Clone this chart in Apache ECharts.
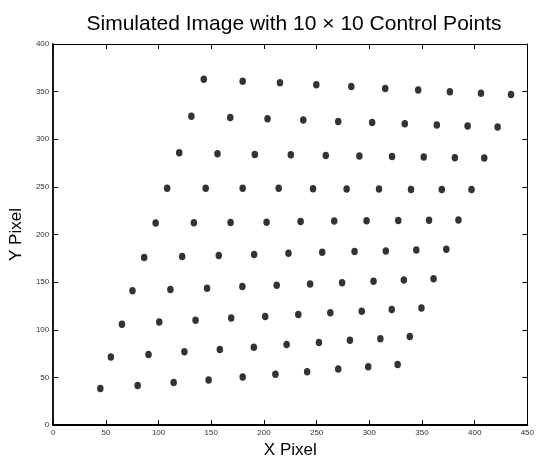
<!DOCTYPE html>
<html>
<head>
<meta charset="utf-8">
<style>
    html, body { margin: 0; padding: 0; background: #fff; }
    .controlChart {
        width: 537px;
        height: 464px;
    }
</style>
<script src="https://cdn.jsdelivr.net/npm/echarts@6/dist/echarts.min.js"></script>
</head>
<body>
<div class="controlChart"></div>
<script>
    // control point rows, bottom row first
    const rowX = [
      [44.7, 80.1, 114.3, 147.5, 179.8, 210.9, 241.0, 270.5, 299.0, 326.9],
      [54.7, 90.4, 124.5, 158.1, 190.4, 221.5, 252.2, 281.6, 310.5, 338.4],
      [65.2, 100.6, 135.1, 168.9, 201.2, 232.6, 263.0, 292.8, 321.3, 349.5],
      [75.2, 111.2, 146.0, 179.5, 212.1, 243.8, 274.2, 304.0, 332.8, 361.0],
      [86.3, 122.4, 157.1, 190.7, 223.3, 255.3, 286.0, 315.7, 344.6, 373.1],
      [97.2, 133.5, 168.3, 202.5, 234.8, 266.7, 297.4, 327.5, 356.7, 384.6],
      [108.1, 144.7, 179.8, 214.0, 246.6, 278.5, 309.2, 339.6, 368.8, 397.0],
      [119.6, 155.9, 191.3, 225.5, 258.7, 290.6, 321.6, 351.7, 381.2, 409.1],
      [131.1, 168.0, 203.4, 237.3, 270.5, 302.7, 333.7, 364.1, 393.3, 421.8],
      [142.9, 179.8, 215.2, 249.7, 282.9, 315.1, 346.4, 376.5, 406.0, 434.5]
    ]
    const rowY = [
      [38.5, 41.6, 44.7, 47.4, 50.5, 53.3, 56.0, 58.8, 61.2, 63.6],
      [71.5, 74.2, 77.0, 79.4, 81.8, 84.5, 86.6, 89.0, 90.7, 93.1],
      [105.8, 108.2, 110.0, 112.4, 114.1, 116.2, 117.9, 119.6, 121.3, 123.0],
      [140.9, 142.3, 143.6, 145.4, 146.7, 148.1, 149.5, 150.9, 152.2, 153.6],
      [175.9, 177.0, 178.0, 179.0, 180.4, 181.4, 182.1, 182.8, 183.8, 184.5],
      [212.0, 212.4, 212.7, 213.0, 213.7, 214.1, 214.4, 214.8, 215.1, 215.4],
      [248.7, 248.7, 248.7, 248.7, 248.0, 247.7, 247.7, 247.4, 247.4, 247.4],
      [285.8, 284.8, 284.1, 283.7, 283.0, 282.4, 282.0, 281.3, 280.6, 280.3],
      [324.2, 322.9, 321.5, 320.1, 318.7, 317.7, 316.3, 315.0, 313.9, 312.9],
      [363.0, 361.0, 359.2, 357.2, 355.5, 353.4, 351.7, 350.0, 348.3, 346.9]
    ]
    const xRange = [0, 450]
    const yRange = [0, 400]
    const tickStep = 50

    const points = []
    rowX.forEach((xs, r) => {
      xs.forEach((x, c) => {
        points.push([x, rowY[r][c]])
      })
    })

    const font = 'Liberation Sans'
    const tickLabel = { fontFamily: font, fontSize: 8, color: '#333' }

    // MATLAB style box: main axes bottom/left, plain copies on top/right
    function boxAxis (pos, range, main) {
      return {
        type: 'value',
        position: pos,
        min: range[0],
        max: range[1],
        interval: tickStep,
        splitLine: { show: false },
        axisLine: { show: true, onZero: false, lineStyle: { color: '#000', width: main ? 1.8 : 1 } },
        axisTick: { show: true, inside: true, length: 5, lineStyle: { color: '#000', width: 1 } },
        axisLabel: main ? Object.assign({ margin: 4 }, tickLabel) : { show: false }
      }
    }

    const xMain = boxAxis('bottom', xRange, true)
    xMain.name = 'X Pixel'
    xMain.nameLocation = 'middle'
    xMain.nameGap = 13
    xMain.nameTextStyle = { fontFamily: font, fontSize: 17, color: '#000' }

    const yMain = boxAxis('left', yRange, true)
    yMain.name = 'Y Pixel'
    yMain.nameLocation = 'middle'
    yMain.nameGap = 21
    yMain.nameTextStyle = { fontFamily: font, fontSize: 17, color: '#000' }

    const chart = echarts.init(document.getElementsByClassName('controlChart')[0], null, { renderer: 'canvas' })
    chart.setOption({
      animation: false,
      backgroundColor: '#fff',
      title: {
        text: 'Simulated Image with 10 \u00d7 10 Control Points',
        left: 289,
        textAlign: 'center',
        top: 9,
        textStyle: { fontFamily: font, fontSize: 21, fontWeight: 'normal', color: '#000' }
      },
      grid: {
        left: 47,
        right: 6,
        top: 44,
        bottom: 31,
        containLabel: false
      },
      xAxis: [xMain, boxAxis('top', xRange, false)],
      yAxis: [yMain, boxAxis('right', yRange, false)],
      series: [
        {
          name: 'control points',
          type: 'scatter',
          xAxisIndex: 0,
          yAxisIndex: 0,
          symbol: 'circle',
          symbolSize: [6.5, 7.5],
          itemStyle: { color: '#000' },
          data: points
        }
      ]
    })
</script>
</body>
</html>
